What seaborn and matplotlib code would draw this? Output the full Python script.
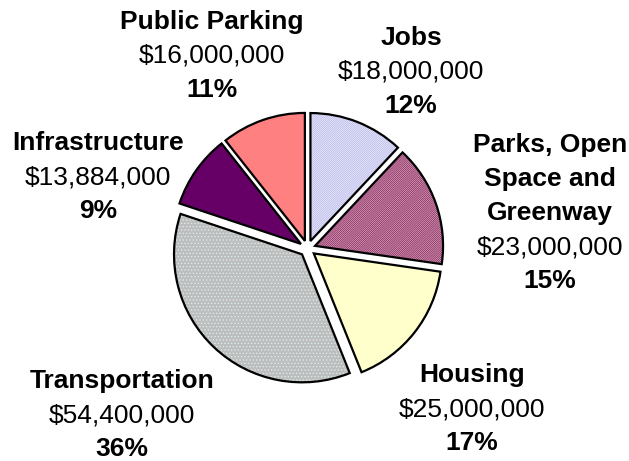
import matplotlib
matplotlib.use("Agg")
import matplotlib.pyplot as plt
import seaborn as sns

# Budget allocation by program area (clockwise from 12 o'clock)
categories = ["Jobs", "Parks, Open\nSpace and\nGreenway", "Housing",
              "Transportation", "Infrastructure", "Public Parking"]
amounts = [18_000_000, 23_000_000, 25_000_000, 54_400_000, 13_884_000, 16_000_000]

# Slice styling
face_colors = ["#F4F4FF", "#E8B4CE", "#FFFFCC", "#BDBDBD", "#660066", "#FF8080"]
hatch_colors = ["#B8B8EA", "#862B5C", "#FFFFCC", "#D8ECEC", "#660066", "#FF8080"]
hatches = ["/" * 16, "/" * 16, None, "." * 5, None, None]

# Label anchors in pixel space (x centre, y of first line measured from top)
label_x = [411, 550, 472, 122, 98, 212]
label_y = [38, 145, 375, 381, 143, 22]

W, H = 629, 461
sns.set_theme(style="white")
plt.rcParams["font.family"] = ["Liberation Sans", "DejaVu Sans"]
plt.rcParams["hatch.linewidth"] = 0.6

fig = plt.figure(figsize=(W / 100, H / 100), dpi=100)
ax = fig.add_axes([0, 0, 1, 1])

center = (307.5, H - 248.5)
radius = 128
explode = [8] * len(amounts)

# Hatched fills
fills, _ = ax.pie(amounts, startangle=90, counterclock=False, center=center,
                  radius=radius, explode=explode,
                  wedgeprops=dict(linewidth=0))
for w, fc, hc, hp in zip(fills, face_colors, hatch_colors, hatches):
    w.set_facecolor(fc)
    w.set_edgecolor(hc)
    if hp:
        w.set_hatch(hp)

# Black outlines on top
ax.pie(amounts, startangle=90, counterclock=False, center=center,
       radius=radius, explode=explode,
       wedgeprops=dict(fill=False, edgecolor="black", linewidth=1.6))

ax.set_xlim(0, W)
ax.set_ylim(0, H)
ax.set_aspect("equal")
ax.axis("off")

total = sum(amounts)
step = 34
fs = 19
for name, amt, x, y0 in zip(categories, amounts, label_x, label_y):
    lines = name.split("\n")
    rows = [(ln, "bold") for ln in lines]
    rows.append((f"${amt:,.0f}", "normal"))
    rows.append((f"{round(100 * amt / total):.0f}%", "bold"))
    for i, (txt, weight) in enumerate(rows):
        ax.text(x, H - (y0 + i * step), txt, ha="center", va="center",
                fontsize=fs, fontweight=weight, color="black")

fig.savefig("out.png", dpi=100)
